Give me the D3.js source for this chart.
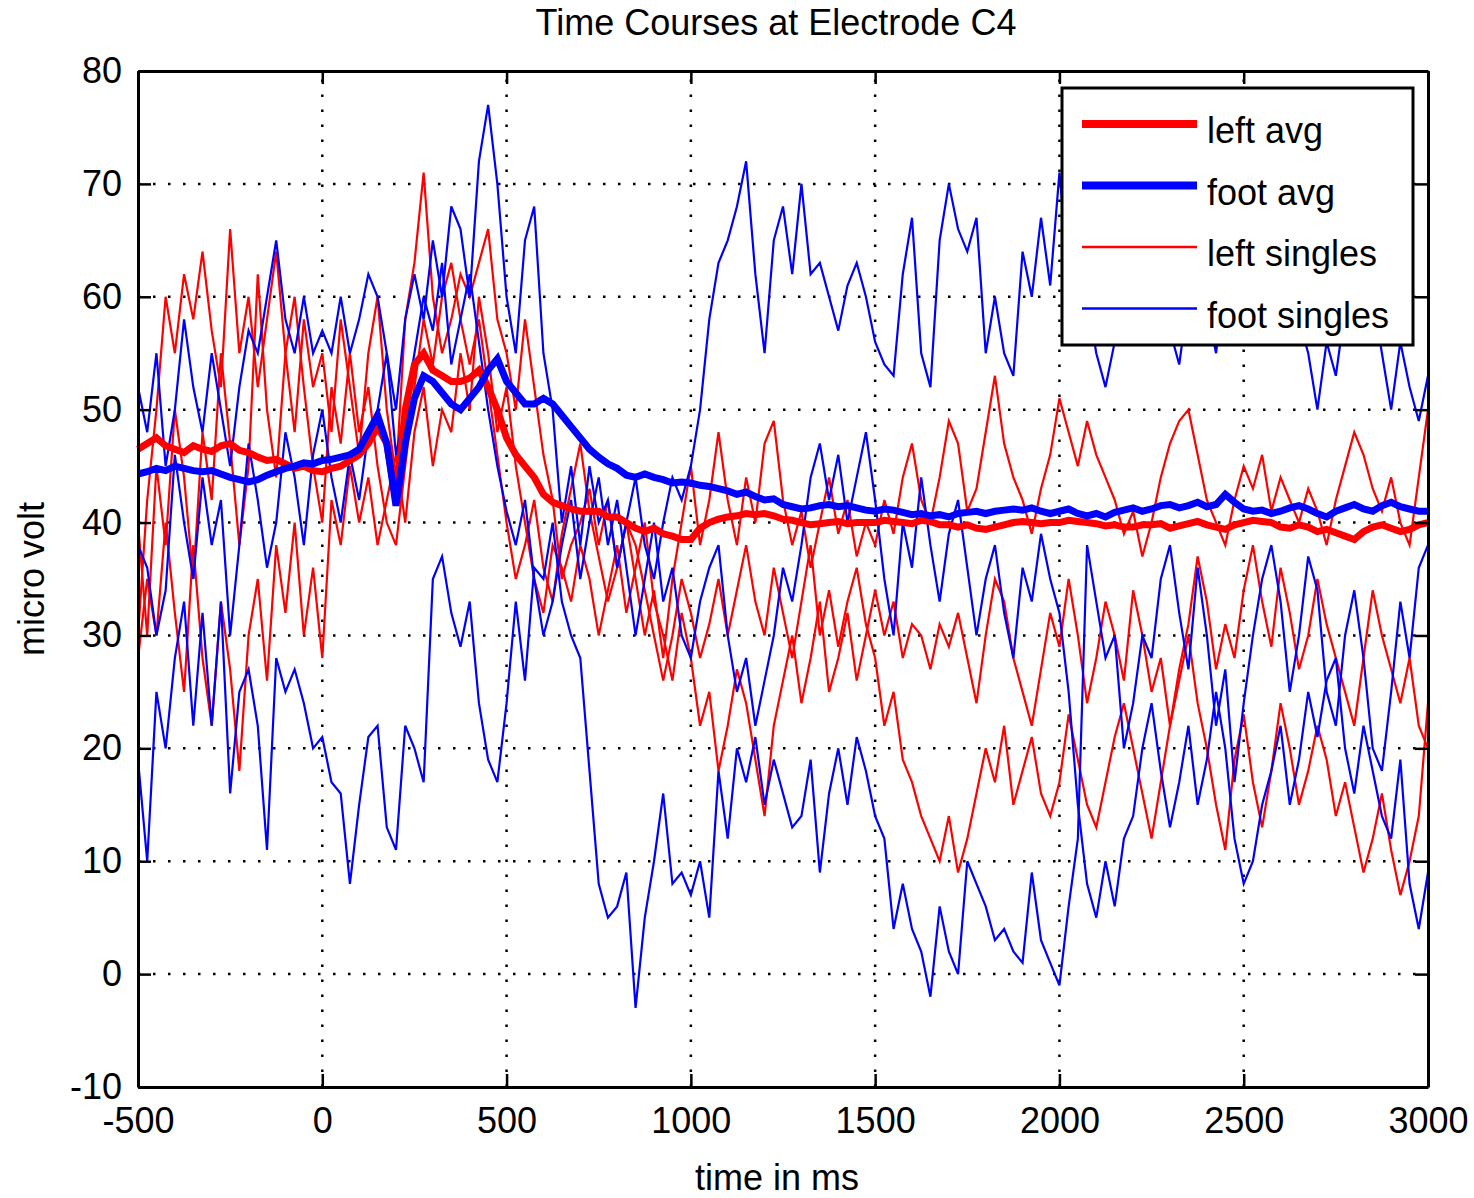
<!DOCTYPE html>
<html>
<head>
<meta charset="utf-8">
<script src="https://cdn.jsdelivr.net/npm/d3@7"></script>
<style>
  body { margin: 0; background: #fff; }
  text { font-family: "Liberation Sans", Arial, sans-serif; fill: #000; }
</style>
</head>
<body>
<div id="chart"></div>
<script>
// sample times (ms), one value every 25 ms
const times = d3.range(-500, 3001, 25);

const xTicks = [-500, 0, 500, 1000, 1500, 2000, 2500, 3000];
const yTicks = [-10, 0, 10, 20, 30, 40, 50, 60, 70, 80];

// averages
const leftAvg = [
  46.5, 47, 47.5, 46.8, 46.5, 46.2, 46.8, 46.5, 46.3, 46.8, 47, 46.4, 46.2, 45.8, 45.5, 45.6, 45.2, 44.8, 45, 44.6,
  44.5, 44.8, 45, 45.5, 46, 47, 48.5, 47, 42, 50, 54, 55, 53.5, 53, 52.5, 52.5, 52.8, 53.5, 52, 50,
  47.5, 46, 45, 44, 42.5, 41.8, 41.5, 41.2, 41, 41, 41, 40.5, 40.5, 40, 39.5, 39.2, 39.5, 39, 38.8, 38.5,
  38.5, 39.5, 40, 40.3, 40.5, 40.6, 40.8, 40.7, 40.8, 40.6, 40.3, 40.2, 40, 39.8, 39.9, 40, 40.1, 39.9, 40, 40,
  40, 40.2, 40.1, 40, 39.9, 40.2, 40.1, 39.8, 39.8, 39.6, 39.8, 39.5, 39.4, 39.6, 39.8, 40, 40.1, 40, 39.9, 40,
  40, 40.2, 40.1, 40, 39.9, 39.7, 39.8, 39.6, 39.6, 39.8, 39.8, 39.9, 39.5, 39.7, 39.9, 40.1, 39.8, 39.6, 39.4, 39.8,
  40, 40.2, 40.1, 40, 39.6, 39.5, 39.8, 39.6, 39.2, 39.4, 39.1, 38.8, 38.5, 39.2, 39.6, 39.8, 39.5, 39.2, 39.4, 39.8,
  40
];
const footAvg = [
  44.3, 44.5, 44.8, 44.6, 45, 44.8, 44.6, 44.5, 44.6, 44.3, 44, 43.8, 43.6, 43.8, 44.2, 44.5, 44.8, 45, 45.3, 45.2,
  45.5, 45.6, 45.8, 46, 46.5, 48, 49.5, 47, 41.5, 47, 51, 53, 52.5, 51.5, 50.5, 50, 51, 52, 53.5, 54.5,
  52.5, 51.5, 50.5, 50.5, 51, 50.5, 49.5, 48.5, 47.5, 46.5, 45.8, 45.2, 44.8, 44.2, 44, 44.3, 44, 43.8, 43.5, 43.6,
  43.5, 43.3, 43.2, 43, 42.8, 42.5, 42.7, 42.3, 42, 42.1, 41.6, 41.4, 41.2, 41.3, 41.5, 41.6, 41.4, 41.5, 41.3, 41.1,
  41, 41.2, 41.1, 40.9, 40.7, 40.8, 40.6, 40.7, 40.5, 40.8, 40.9, 41, 40.8, 41, 41.1, 41.2, 41.1, 41.3, 41, 40.8,
  41, 41.2, 40.8, 40.6, 40.8, 40.5, 40.9, 41.1, 41.3, 41, 41.2, 41.5, 41.6, 41.3, 41.5, 41.8, 41.4, 41.6, 42.5, 41.8,
  41.2, 41, 41.1, 40.8, 41, 41.3, 41.5, 41.2, 40.8, 40.5, 41, 41.3, 41.6, 41.2, 41, 41.5, 41.8, 41.4, 41.2, 41,
  41
];

// single trials, left hand
const leftSingle1 = [
  30, 42, 50, 60, 55, 62, 58, 64, 57, 52, 66, 55, 60, 52, 58, 64, 55, 48, 58, 52,
  55, 48, 58, 52, 46, 55, 60, 50, 44, 58, 63, 71, 60, 55, 58, 62, 60, 63, 66, 58,
  55, 50, 58, 52, 46, 42, 35, 38, 40, 43, 38, 42, 36, 40, 35, 30, 34, 28, 35, 40,
  45, 38, 42, 48, 42, 38, 44, 40, 47, 49, 42, 38, 41, 36, 40, 44, 39, 42, 37, 40,
  38, 42, 39, 44, 47, 42, 40, 44, 49, 47, 41, 43, 48, 53, 47, 44, 42, 39, 43, 46,
  51, 48, 45, 49, 46, 44, 42, 39, 41, 37, 40, 44, 47, 49, 50, 46, 42, 40, 38, 42,
  45, 43, 46, 41, 44, 42, 40, 43, 41, 38, 42, 45, 48, 46, 43, 41, 44, 40, 38, 44,
  50
];
const leftSingle2 = [
  28, 35, 30, 40, 32, 25, 38, 28, 22, 33, 27, 18, 30, 35, 26, 38, 32, 40, 30, 36,
  28, 42, 38, 45, 40, 44, 38, 42, 46, 40, 48, 52, 45, 50, 48, 55, 50, 60, 55, 48,
  52, 45, 40, 35, 32, 38, 36, 33, 38, 35, 30, 34, 38, 32, 36, 40, 33, 30, 26, 32,
  28, 22, 25, 18, 22, 27, 24, 19, 14, 22, 26, 30, 24, 28, 33, 25, 28, 32, 26, 30,
  34, 30, 33, 28, 31, 30, 27, 31, 29, 32, 28, 24, 30, 35, 33, 28, 25, 22, 27, 32,
  29, 35, 30, 24, 28, 33, 30, 26, 34, 30, 25, 28, 22, 27, 31, 37, 33, 27, 31, 28,
  34, 38, 33, 29, 36, 32, 27, 30, 35, 31, 28, 25, 22, 28, 34, 30, 27, 24, 28, 22,
  20
];
const leftSingle3 = [
  40, 30, 45, 38, 50, 44, 35, 48, 42, 55, 47, 38, 45, 62, 50, 44, 55, 60, 52, 45,
  40, 52, 47, 55, 48, 52, 45, 40, 38, 45, 52, 58, 54, 60, 63, 58, 54, 58, 52, 46,
  40, 35, 38, 42, 36, 33, 39, 43, 47, 41, 37, 33, 36, 40, 38, 34, 30, 26, 30, 35,
  32, 28, 31, 35, 30, 34, 38, 33, 30, 36, 32, 28, 33, 38, 30, 34, 29, 33, 36, 31,
  28, 22, 25, 19, 17, 14, 12, 10, 14, 9, 12, 16, 20, 17, 22, 15, 18, 21, 16, 14,
  17, 23, 19, 15, 13, 17, 21, 24, 20, 16, 12, 17, 22, 26, 30, 24, 20, 15, 11, 19,
  23, 17, 13, 18, 24, 20, 15, 18, 22, 19, 14, 17, 13, 9, 12, 16, 11, 7, 10, 14,
  24
];

// single trials, foot
const footSingle1 = [
  52, 48, 55, 45, 50, 58, 52, 48, 55, 50, 45, 52, 57, 55, 60, 65, 58, 55, 60, 55,
  57, 55, 60, 55, 58, 62, 60, 55, 50, 58, 62, 58, 65, 60, 68, 66, 60, 72, 77, 70,
  60, 55, 65, 68, 55, 50, 40, 45, 38, 45, 40, 42, 36, 40, 44, 38, 35, 40, 44, 42,
  45, 50, 58, 63, 65, 68, 72, 62, 55, 65, 68, 62, 70, 62, 63, 60, 57, 61, 63, 60,
  56, 54, 53, 62, 67, 55, 52, 65, 70, 66, 64, 67, 55, 60, 55, 53, 64, 60, 67, 61,
  71, 62, 58, 60, 55, 52, 56, 62, 66, 60, 58, 63, 57, 54, 60, 64, 59, 55, 62, 58,
  63, 60, 66, 61, 57, 62, 58, 55, 50, 56, 53, 59, 62, 57, 60, 55, 50, 56, 52, 49,
  53
];
const footSingle2 = [
  19, 10, 25, 20, 28, 33, 22, 32, 22, 33, 16, 25, 27, 22, 11, 28, 25, 27, 24, 20,
  21, 17, 16, 8, 15, 21, 22, 13, 11, 22, 20, 17, 35, 37, 32, 29, 33, 24, 19, 17,
  24, 33, 26, 36, 35, 40, 33, 30, 28, 18, 8, 5, 6, 9, -3, 5, 10, 16, 8, 9,
  7, 10, 5, 18, 12, 20, 17, 21, 15, 19, 16, 13, 14, 19, 9, 16, 20, 15, 21, 18,
  14, 12, 4, 8, 4, 2, -2, 6, 2, 0, 10, 8, 6, 3, 4, 2, 1, 9, 3, 1,
  -1, 6, 12, 38, 33, 28, 30, 20, 24, 30, 28, 35, 38, 32, 27, 36, 30, 22, 27, 17,
  24, 30, 35, 38, 33, 25, 30, 37, 34, 25, 22, 30, 34, 28, 20, 18, 25, 33, 28, 36,
  38
];
const footSingle3 = [
  38, 36, 30, 34, 46, 40, 35, 44, 38, 42, 30, 38, 47, 42, 36, 40, 48, 44, 38, 46,
  50, 44, 40, 46, 42, 48, 50, 55, 46, 50, 55, 60, 57, 63, 54, 58, 62, 56, 50, 45,
  41, 38, 42, 35, 30, 33, 38, 42, 35, 40, 44, 38, 42, 36, 30, 35, 40, 33, 36, 30,
  28, 33, 36, 38, 30, 25, 28, 22, 26, 30, 36, 33, 38, 44, 47, 42, 46, 40, 44, 48,
  42, 35, 30, 40, 36, 44, 38, 33, 39, 42, 36, 30, 35, 38, 32, 28, 36, 33, 39, 35,
  32, 25, 15, 8, 5, 10, 6, 12, 14, 20, 24, 18, 13, 17, 22, 15, 19, 25, 20, 12,
  8, 10, 15, 18, 22, 15, 19, 25, 21, 26, 28, 20, 16, 22, 18, 14, 12, 19, 8, 4,
  9
];

const legendLabels = ["left avg", "foot avg", "left singles", "foot singles"];

const width = 1474, height = 1198;
const margin = { top: 71, right: 46, bottom: 111, left: 138 };

const svg = d3.select("#chart").append("svg")
  .attr("width", width)
  .attr("height", height)
  .style("background", "#fff");

const x = d3.scaleLinear().domain([-500, 3000]).range([margin.left, width - margin.right]);
const y = d3.scaleLinear().domain([-10, 80]).range([height - margin.bottom, margin.top]);

// dotted grid
svg.append("g").selectAll("line")
  .data(xTicks.slice(1, -1))
  .join("line")
  .attr("x1", d => x(d)).attr("x2", d => x(d))
  .attr("y1", y(-10)).attr("y2", y(80))
  .attr("stroke", "#000").attr("stroke-width", 2.5)
  .attr("stroke-dasharray", "2.5 12.5");

svg.append("g").selectAll("line")
  .data(yTicks.slice(1, -1))
  .join("line")
  .attr("x1", x(-500)).attr("x2", x(3000))
  .attr("y1", d => y(d)).attr("y2", d => y(d))
  .attr("stroke", "#000").attr("stroke-width", 2.5)
  .attr("stroke-dasharray", "2.5 12.5");

const line = d3.line()
  .x((d, i) => x(times[i]))
  .y(d => y(d));

const plot = svg.append("g");

[leftSingle1, leftSingle2, leftSingle3].forEach(s => {
  plot.append("path").attr("d", line(s))
    .attr("fill", "none").attr("stroke", "#ff0000").attr("stroke-width", 2.2);
});
[footSingle1, footSingle2, footSingle3].forEach(s => {
  plot.append("path").attr("d", line(s))
    .attr("fill", "none").attr("stroke", "#0000ff").attr("stroke-width", 2.2);
});
plot.append("path").attr("d", line(leftAvg))
  .attr("fill", "none").attr("stroke", "#ff0000").attr("stroke-width", 7);
plot.append("path").attr("d", line(footAvg))
  .attr("fill", "none").attr("stroke", "#0000ff").attr("stroke-width", 7);

// axes with inward ticks
const fs = 36;
const plain = d => String(d);
svg.append("g")
  .attr("transform", `translate(0,${y(-10)})`)
  .call(d3.axisBottom(x).tickValues(xTicks).tickFormat(plain)
    .tickSizeInner(-13).tickSizeOuter(0).tickPadding(20));
svg.append("g")
  .attr("transform", `translate(${x(-500)},0)`)
  .call(d3.axisLeft(y).tickValues(yTicks).tickFormat(plain)
    .tickSizeInner(-13).tickSizeOuter(0).tickPadding(16));
svg.append("g")
  .attr("transform", `translate(0,${y(80)})`)
  .call(d3.axisTop(x).tickValues(xTicks).tickSizeInner(-13).tickSizeOuter(0).tickFormat(""));
svg.append("g")
  .attr("transform", `translate(${x(3000)},0)`)
  .call(d3.axisRight(y).tickValues(yTicks).tickSizeInner(-13).tickSizeOuter(0).tickFormat(""));

svg.selectAll(".tick line").attr("stroke", "#000").attr("stroke-width", 2.5);
svg.selectAll(".domain").attr("stroke", "#000").attr("stroke-width", 3);
svg.selectAll(".tick text")
  .style("font-family", "'Liberation Sans', Arial, sans-serif")
  .attr("font-size", fs).attr("fill", "#000");

// titles
svg.append("text")
  .attr("x", 776).attr("y", 35)
  .attr("text-anchor", "middle").attr("font-size", fs)
  .text("Time Courses at Electrode C4");
svg.append("text")
  .attr("x", 777).attr("y", 1190)
  .attr("text-anchor", "middle").attr("font-size", fs)
  .text("time in ms");
svg.append("text")
  .attr("transform", `translate(44,${(y(-10) + y(80)) / 2}) rotate(-90)`)
  .attr("text-anchor", "middle").attr("font-size", fs)
  .text("micro volt");

// legend
const legend = svg.append("g").attr("transform", "translate(1062,88)");
legend.append("rect")
  .attr("width", 351).attr("height", 257)
  .attr("fill", "#fff").attr("stroke", "#000").attr("stroke-width", 3);

const legendColors = ["#ff0000", "#0000ff", "#ff0000", "#0000ff"];
const legendWidths = [8, 8, 2.5, 2.5];
legendLabels.forEach((lab, i) => {
  const ly = 36 + i * 61.5;
  legend.append("line")
    .attr("x1", 20).attr("x2", 135)
    .attr("y1", ly).attr("y2", ly)
    .attr("stroke", legendColors[i]).attr("stroke-width", legendWidths[i]);
  legend.append("text")
    .attr("x", 145).attr("y", ly + 19)
    .attr("font-size", fs)
    .text(lab);
});
</script>
</body>
</html>
